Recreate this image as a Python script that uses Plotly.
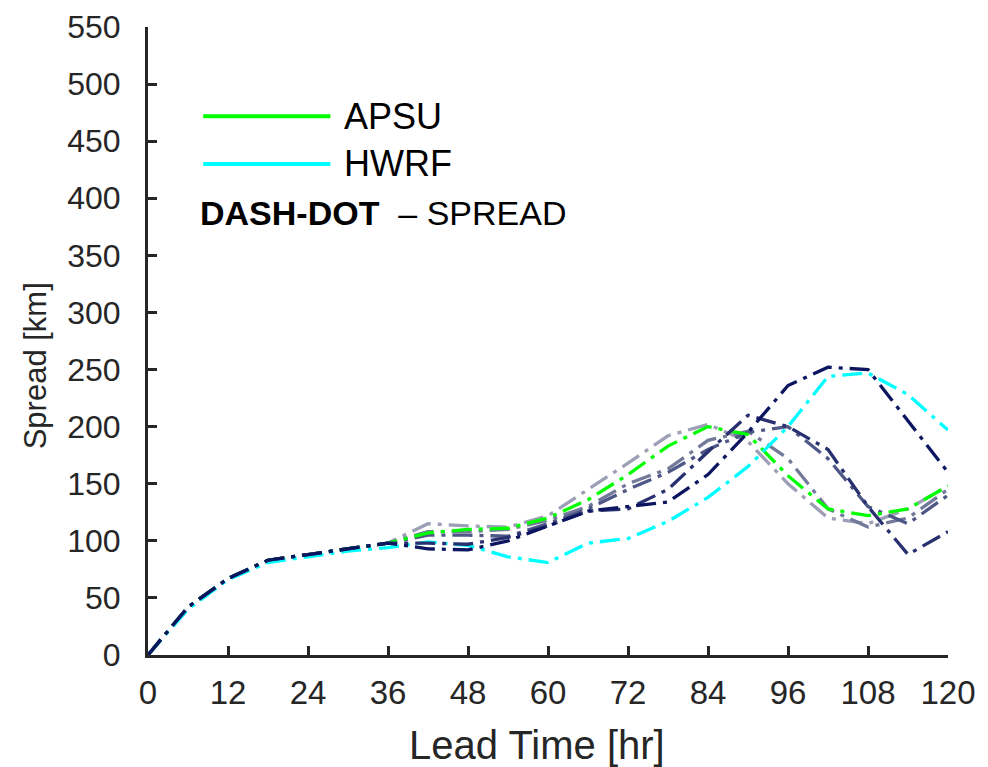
import plotly.graph_objects as go

lead = [0, 6, 12, 18, 24, 30, 36, 42, 48, 54, 60, 66, 72, 78, 84, 90, 96, 102, 108, 114, 120]

apsu = [0, 42, 67, 83, 88, 93, 98, 107, 110, 111, 120, 136, 158, 183, 200, 193, 157, 128, 122, 128, 148]
hwrf = [0, 40, 66, 81, 86, 91, 94, 99, 96, 86, 81, 98, 102, 117, 138, 165, 200, 244, 247, 228, 197]

ens1 = [0, 42, 67, 83, 88, 93, 98, 115, 113, 112, 122, 145, 168, 192, 202, 187, 150, 120, 115, 128, 148]
ens2 = [0, 42, 67, 83, 88, 93, 98, 108, 108, 110, 118, 130, 150, 163, 188, 196, 172, 128, 112, 120, 145]
ens3 = [0, 42, 67, 83, 88, 93, 98, 105, 105, 104, 115, 128, 145, 160, 180, 195, 200, 172, 130, 115, 140]
ens4 = [0, 42, 67, 83, 88, 93, 98, 98, 97, 103, 113, 126, 128, 145, 178, 210, 200, 180, 130, 88, 108]
ens5 = [0, 42, 67, 83, 88, 93, 98, 93, 92, 100, 113, 126, 130, 134, 158, 195, 236, 252, 250, 205, 160]

x_ticks = list(range(0, 121, 12))
y_ticks = list(range(0, 551, 50))

dash = "20px,7px,4px,7px"
font = "Liberation Sans, Arial, sans-serif"
ink = "#262626"

fig = go.Figure()

series = [
    (ens1, "#9c9fb6"),
    (ens2, "#737999"),
    (ens3, "#4f5786"),
    (ens4, "#283070"),
    (ens5, "#0b1560"),
    (apsu, "#00ff00"),
    (hwrf, "#00ffff"),
]
# grey members first, then the two models, navy members on top
order = [0, 1, 2, 5, 6, 3, 4]
for i in order:
    y, c = series[i]
    fig.add_trace(go.Scatter(x=lead, y=y, mode="lines",
                             line=dict(color=c, width=3.3, dash=dash),
                             showlegend=False, hoverinfo="skip"))

# hand-made legend (long sample lines like the original)
fig.add_shape(type="line", xref="paper", yref="paper", x0=0.069, x1=0.228, y0=0.858, y1=0.858,
              line=dict(color="#00ff00", width=4))
fig.add_shape(type="line", xref="paper", yref="paper", x0=0.069, x1=0.228, y0=0.782, y1=0.782,
              line=dict(color="#00ffff", width=4))
fig.add_annotation(xref="paper", yref="paper", x=0.243, y=0.858, xanchor="left", yanchor="middle",
                   text="APSU", showarrow=False, font=dict(size=36, color="black", family=font))
fig.add_annotation(xref="paper", yref="paper", x=0.243, y=0.782, xanchor="left", yanchor="middle",
                   text="HWRF", showarrow=False, font=dict(size=36, color="black", family=font))
fig.add_annotation(xref="paper", yref="paper", x=0.062, y=0.704, xanchor="left", yanchor="middle",
                   text="<b>DASH-DOT</b>  – SPREAD", showarrow=False,
                   font=dict(size=34, color="black", family=font))

# axis titles placed as in the original (slightly off-centre)
fig.add_annotation(xref="paper", yref="paper", x=0.486, y=-0.143, xanchor="center", yanchor="middle",
                   text="Lead Time [hr]", showarrow=False, font=dict(size=40, color=ink, family=font))
fig.add_annotation(xref="paper", yref="paper", x=-0.141, y=0.46, xanchor="center", yanchor="middle",
                   text="Spread [km]", textangle=-90, showarrow=False,
                   font=dict(size=31, color=ink, family=font))

fig.update_xaxes(range=[0, 120], tickvals=x_ticks, ticks="inside", ticklen=9, tickwidth=3,
                 tickcolor=ink, showline=True, linecolor=ink, linewidth=3, showgrid=False,
                 zeroline=False, automargin=False, ticklabelstandoff=6, ticklabeloverflow="allow",
                 tickfont=dict(size=33, color=ink, family=font))
fig.update_yaxes(range=[0, 550], tickvals=y_ticks, ticks="inside", ticklen=9, tickwidth=3,
                 tickcolor=ink, showline=True, linecolor=ink, linewidth=3, showgrid=False,
                 zeroline=False, automargin=False, ticklabelstandoff=18, ticklabeloverflow="allow",
                 tickfont=dict(size=32, color=ink, family=font))

fig.update_layout(width=988, height=767, plot_bgcolor="white", paper_bgcolor="white",
                  margin=dict(l=140, r=48, t=19, b=120, autoexpand=False),
                  font=dict(family=font, color=ink))

fig.write_html("out.html")
